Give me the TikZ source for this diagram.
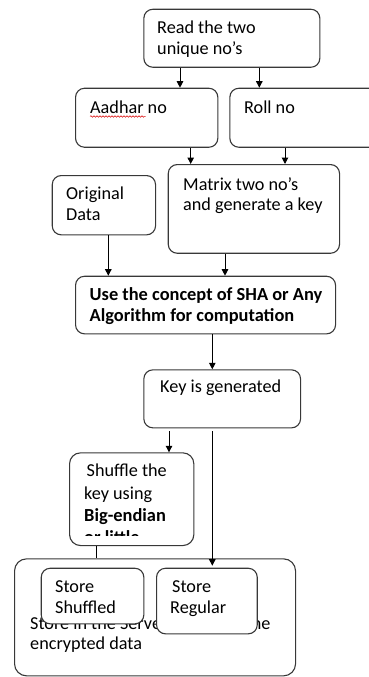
\documentclass[tikz,border=0pt]{standalone}
\usepackage{fontspec}
\setmainfont{Carlito}
\usetikzlibrary{arrows.meta,decorations.pathmorphing}

\tikzset{
  box/.style={draw=black!78, line width=1.1pt, rounded corners=9pt, fill=white,
              anchor=north west, inner sep=0pt},
  txt/.style={anchor=base west, inner sep=0pt, font=\fontsize{18.2}{20}\selectfont},
  btxt/.style={txt, font=\fontsize{18.4}{20}\selectfont\bfseries},
  arr/.style={draw=black, line width=1pt, -{Triangle[length=6.5pt,width=6.5pt]}},
  lnk/.style={draw=black, line width=1pt},
  spell/.style={draw=red!85!black, line width=0.5pt,
                decorate, decoration={snake, amplitude=0.8pt, segment length=3pt}}
}

\begin{document}
\begin{tikzpicture}[x=1pt, y=-1pt]
\useasboundingbox (0,0) rectangle (368,677);

% x positions of the vertical connectors
\coordinate (xa) at (180,0);
\coordinate (xb) at (259.3,0);
\coordinate (xc) at (190.7,0);
\coordinate (xd) at (285,0);
\coordinate (xe) at (108.3,0);
\coordinate (xf) at (225,0);
\coordinate (xg) at (212.3,0);
\coordinate (xh) at (169,0);
\coordinate (xi) at (96,0);

% boxes
\node[box, minimum width=176pt, minimum height=58pt] (read) at (143.3,8.7) {};
\node[box, minimum width=142.3pt, minimum height=59pt] (aad) at (75,87.7) {};
\node[box, minimum width=150pt, minimum height=59pt] (roll) at (229.3,87.7) {};
\node[box, minimum width=171.3pt, minimum height=88.7pt] (mat) at (167.7,164) {};
\node[box, minimum width=103.3pt, minimum height=59.3pt] (orig) at (51.7,175) {};
\node[box, minimum width=260pt, minimum height=57.6pt] (use) at (75,275.7) {};
\node[box, minimum width=156.7pt, minimum height=58pt] (key) at (143.3,369.3) {};
\node[box, minimum width=124.3pt, minimum height=92.7pt, rounded corners=11pt] (shuf) at (69,452.3) {};
\node[box, minimum width=281pt, minimum height=117pt, rounded corners=12pt] (serv) at (14,558.3) {};

% texts
\node[txt] (read1) at (157,34) {Read the two};
\node[txt] (read2) at (157,54.3) {unique no’s};
\node[txt] (aad1) at (90,113) {Aadhar no};
\draw[spell] (90,116.5) -- (145.5,116.5);
\node[txt] (roll1) at (244,113) {Roll no};
\node[txt] (mat1) at (183,190) {Matrix two no’s};
\node[txt] (mat2) at (183,210.5) {and generate a key};
\node[txt] (orig1) at (66,199.5) {Original};
\node[txt] (orig2) at (66,220) {Data};
\node[btxt] (use1) at (89.5,300) {Use the concept of SHA or Any};
\node[btxt] (use2) at (89.5,321.3) {Algorithm for computation};
\node[txt] (key1) at (160,392.5) {Key is generated};
\begin{scope}
  \clip (70,453) rectangle (193,535.3);
  \node[txt] (shuf1) at (86.5,476.7) {Shuffle the};
  \node[txt] (shuf2) at (84,499) {key using};
  \node[btxt] (shuf3) at (84,521) {Big-endian};
  \node[btxt] (shuf4) at (84,543) {or little};
\end{scope}
\node[txt] (serv1) at (30,629) {Store in the Server as well as the};
\node[txt] (serv2) at (30,649.5) {encrypted data};

% storage boxes drawn over the server text
\node[box, minimum width=102.6pt, minimum height=55.6pt] (sshuf) at (40.7,567.7) {};
\node[box, minimum width=100.7pt, minimum height=65.6pt] (sreg) at (156,567.7) {};
\node[txt] (sshuf1) at (55,592.7) {Store};
\node[txt] (sshuf2) at (55,613.3) {Shuffled};
\node[txt] (sreg1) at (172,592.7) {Store};
\node[txt] (sreg2) at (170,613.5) {Regular};

% connectors
\draw[arr] (read.south -| xa) -- (aad.north -| xa);
\draw[arr] (read.south -| xb) -- (roll.north -| xb);
\draw[arr] (aad.south -| xc) -- (mat.north -| xc);
\draw[arr] (roll.south -| xd) -- (mat.north -| xd);
\draw[arr] (orig.south -| xe) -- (use.north -| xe);
\draw[arr] (mat.south -| xf) -- (use.north -| xf);
\draw[arr] (use.south -| xg) -- (key.north -| xg);
\draw[arr] ([yshift=-3pt]key.south -| xh) -- (shuf.north -| xh);
\draw[arr] ([yshift=-3pt]key.south -| xg) -- ([yshift=2pt]sreg.north -| xg);
\draw[lnk] (shuf.south -| xi) -- (serv.north -| xi);
\end{tikzpicture}
\end{document}
